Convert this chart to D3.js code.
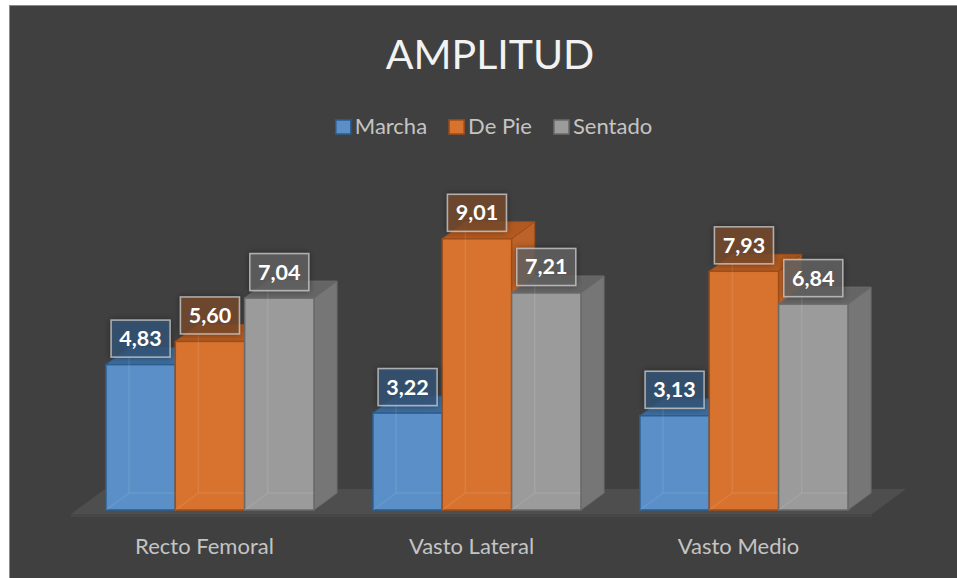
<!DOCTYPE html>
<html>
<head>
<meta charset="utf-8">
<script src="https://cdn.jsdelivr.net/npm/d3@7/dist/d3.min.js"></script>
<style>
  html, body { margin: 0; padding: 0; background: #ffffff; }
  svg { display: block; }
</style>
</head>
<body>
<svg id="chart" width="957" height="578"></svg>
<script>
// Amplitude per muscle, three postures
const categories = ["Recto Femoral", "Vasto Lateral", "Vasto Medio"];
const seriesNames = ["Marcha", "De Pie", "Sentado"];
const marcha  = [4.83, 3.22, 3.13];
const dePie   = [5.60, 9.01, 7.93];
const sentado = [7.04, 7.21, 6.84];
const seriesValues = [marcha, dePie, sentado];

// Face colours per series: front, side, top, edge, label box
const palette = [
  { front: "#5a8fc7", side: "#4a7cb2", top: "#3d6c9c", edge: "#2d5d8e", box: "rgba(52,86,120,0.78)" },
  { front: "#d8732f", side: "#bd6228", top: "#b2591f", edge: "#9e4e1a", box: "rgba(120,76,46,0.78)" },
  { front: "#9b9b9b", side: "#767676", top: "#656565", edge: "#6a6a6a", box: "rgba(98,98,98,0.8)" }
];

const fmt = d3.formatLocale({ decimal: ",", thousands: ".", grouping: [3], currency: ["", ""] }).format(".2f");

const svg = d3.select("#chart");
const W = 957, H = 578;
const FONT = "Lato, 'Open Sans', sans-serif";

// Chart area
svg.append("rect")
  .attr("x", 9.5).attr("y", 5.5)
  .attr("width", W + 10).attr("height", H + 10)
  .attr("fill", "#404040")
  .attr("stroke", "#8a8a8a").attr("stroke-width", 1);

const defs = svg.append("defs");
const shadow = defs.append("filter").attr("id", "lblShadow")
  .attr("x", "-30%").attr("y", "-30%").attr("width", "160%").attr("height", "160%");
shadow.append("feDropShadow")
  .attr("dx", 0).attr("dy", 0).attr("stdDeviation", 3)
  .attr("flood-color", "#000").attr("flood-opacity", 0.45);

// Title
svg.append("text")
  .attr("x", 490).attr("y", 69)
  .attr("text-anchor", "middle")
  .attr("font-family", FONT)
  .attr("font-size", 41)
  .attr("fill", "#f2f2f2")
  .text("AMPLITUD");

// Legend
const legend = svg.append("g");
const legendItems = legend.selectAll("g").data(seriesNames).join("g");
legendItems.append("rect")
  .attr("width", 15).attr("height", 14)
  .attr("y", 120)
  .attr("fill", (d, i) => palette[i].front)
  .attr("stroke", (d, i) => palette[i].edge)
  .attr("stroke-width", 1.5);
legendItems.append("text")
  .attr("y", 134)
  .attr("font-family", FONT)
  .attr("font-size", 22)
  .attr("fill", "#c4c4c4")
  .text(d => d);
{
  let widths = [];
  legendItems.select("text").each(function () { widths.push(this.getComputedTextLength()); });
  const sq = 15, gapIn = 4, gapOut = 22;
  const total = d3.sum(widths) + seriesNames.length * (sq + gapIn) + (seriesNames.length - 1) * gapOut;
  let x = 494 - total / 2;
  legendItems.each(function (d, i) {
    const g = d3.select(this);
    g.select("rect").attr("x", x);
    g.select("text").attr("x", x + sq + gapIn);
    x += sq + gapIn + widths[i] + gapOut;
  });
}

// Scales
const floorFrontY = 514;
const depthTotal = [34, -25];          // floor depth vector
const depthFrac = 0.16;                 // bars sit inset from the floor edges
const barOffset = [depthTotal[0] * depthFrac, depthTotal[1] * depthFrac];
const barDepth = [depthTotal[0] * (1 - 2 * depthFrac), depthTotal[1] * (1 - 2 * depthFrac)];

const x0 = d3.scaleBand().domain(categories).range([71, 872]).padding(0);
const x1 = d3.scaleBand().domain(seriesNames).range([0, x0.bandwidth()])
  .paddingInner(0).paddingOuter(0.425);
const baseY = floorFrontY + barOffset[1];
const y = d3.scaleLinear().domain([0, 10]).range([baseY, baseY - 301]);

// Floor
const fx0 = x0.range()[0], fx1 = x0.range()[1];
svg.append("path")
  .attr("d", d3.line()([
    [fx0, floorFrontY], [fx1, floorFrontY],
    [fx1 + depthTotal[0], floorFrontY + depthTotal[1]],
    [fx0 + depthTotal[0], floorFrontY + depthTotal[1]]
  ]) + "Z")
  .attr("fill", "#4f4e4e");
svg.append("rect")
  .attr("x", fx0).attr("y", floorFrontY)
  .attr("width", fx1 - fx0).attr("height", 3)
  .attr("fill", "#474747");

// Bars (drawn left to right so each front face covers its neighbour's side)
const bars = [];
categories.forEach((c, ci) => {
  seriesNames.forEach((s, si) => {
    bars.push({ cat: c, ser: s, si, v: seriesValues[si][ci] });
  });
});

const barG = svg.append("g");
const [dx, dy] = barDepth;
bars.forEach(b => {
  const p = palette[b.si];
  const xl = x0(b.cat) + x1(b.ser) + barOffset[0];
  const xr = xl + x1.bandwidth();
  const yt = y(b.v), yb = y(0);
  const g = barG.append("g");
  // right side
  g.append("path")
    .attr("d", d3.line()([[xr, yt], [xr + dx, yt + dy], [xr + dx, yb + dy], [xr, yb]]) + "Z")
    .attr("fill", p.side).attr("stroke", p.edge).attr("stroke-width", 1).attr("stroke-linejoin", "round");
  // top
  g.append("path")
    .attr("d", d3.line()([[xl, yt], [xr, yt], [xr + dx, yt + dy], [xl + dx, yt + dy]]) + "Z")
    .attr("fill", p.top).attr("stroke", p.edge).attr("stroke-width", 1).attr("stroke-linejoin", "round");
  // front
  g.append("rect")
    .attr("x", xl).attr("y", yt)
    .attr("width", xr - xl).attr("height", yb - yt)
    .attr("fill", p.front).attr("stroke", p.edge).attr("stroke-width", 1.5);
  // back edges seen through the translucent body
  g.append("path")
    .attr("d", `M${xl + dx},${yt + dy + 1}V${yb + dy}H${xr}`)
    .attr("fill", "none").attr("stroke", "#ffffff").attr("stroke-opacity", 0.09).attr("stroke-width", 1.5);
  g.append("path")
    .attr("d", `M${xl},${yb}L${xl + dx},${yb + dy}`)
    .attr("fill", "none").attr("stroke", "#ffffff").attr("stroke-opacity", 0.09).attr("stroke-width", 1.5);
});

// Value labels
const lblW = 59, lblH = 37;
const lbl = svg.append("g");
bars.forEach(b => {
  const p = palette[b.si];
  const cx = x0(b.cat) + x1(b.ser) + barOffset[0] + x1.bandwidth() / 2;
  const bottom = y(b.v) - 7.5;
  lbl.append("rect")
    .attr("x", cx - lblW / 2).attr("y", bottom - lblH)
    .attr("width", lblW).attr("height", lblH)
    .attr("fill", p.box)
    .attr("stroke", "#c8c8c8").attr("stroke-opacity", 0.8).attr("stroke-width", 1.5)
    .attr("filter", "url(#lblShadow)");
  lbl.append("text")
    .attr("x", cx).attr("y", bottom - lblH / 2 + 7.5)
    .attr("text-anchor", "middle")
    .attr("font-family", FONT)
    .attr("font-weight", "bold")
    .attr("font-size", 21.5)
    .attr("fill", "#ffffff")
    .text(fmt(b.v));
});

// Category axis labels
svg.append("g").selectAll("text").data(categories).join("text")
  .attr("x", d => x0(d) + x0.bandwidth() / 2)
  .attr("y", 554)
  .attr("text-anchor", "middle")
  .attr("font-family", FONT)
  .attr("font-size", 22)
  .attr("fill", "#c4c4c4")
  .text(d => d);
</script>
</body>
</html>
